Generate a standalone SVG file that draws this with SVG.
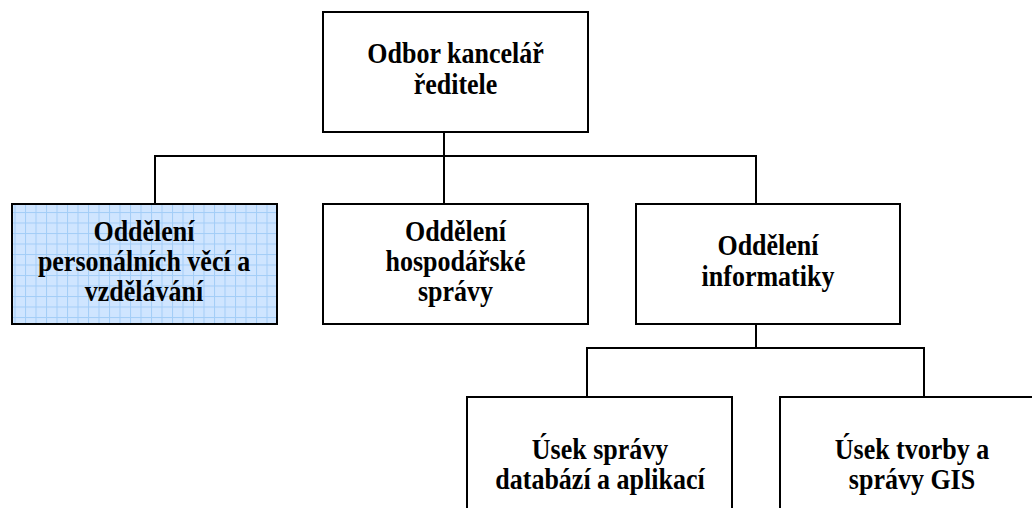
<svg xmlns="http://www.w3.org/2000/svg" width="1032" height="508" viewBox="0 0 1032 508">
<style>
.box{fill:#ffffff;stroke:#000000;stroke-width:2}
.blue{fill:url(#grid);stroke:#000000;stroke-width:2}
.conn{fill:none;stroke:#000000;stroke-width:2}
.t{font-family:"Liberation Serif","Times New Roman",serif;font-weight:bold;font-size:26px;fill:#000000;text-anchor:middle}
</style>
<defs>
<pattern id="grid" patternUnits="userSpaceOnUse" x="4" y="2" width="10.5" height="10.5">
<rect width="10.5" height="10.5" fill="#cfe5ff"/>
<rect x="0" y="0" width="1" height="10.5" fill="#a3cdf7"/>
<rect x="0" y="0" width="10.5" height="1" fill="#a3cdf7"/>
</pattern>
</defs>
<rect width="1032" height="508" fill="#ffffff"/>
<g id="connectors">
<path class="conn" d="M444 132 V204"/>
<path class="conn" d="M155 204 V156 H756 V204"/>
<path class="conn" d="M756 324 V348"/>
<path class="conn" d="M587 397 V348 H924 V397"/>
</g>
<g id="n-root">
<rect class="box" x="323" y="12" width="265" height="120"/>
<text class="t" transform="translate(455.5 63) scale(1 1.12)">Odbor kancelář</text>
<text class="t" transform="translate(455.5 94) scale(1 1.12)">ředitele</text>
</g>
<g id="n-personal">
<rect class="blue" x="12" y="204" width="265" height="120"/>
<text class="t" transform="translate(144 241) scale(1 1.12)">Oddělení</text>
<text class="t" transform="translate(144 271) scale(1 1.12)">personálních věcí a</text>
<text class="t" transform="translate(144 301) scale(1 1.12)">vzdělávání</text>
</g>
<g id="n-hosp">
<rect class="box" x="323" y="204" width="265" height="120"/>
<text class="t" transform="translate(455.5 241) scale(1 1.12)">Oddělení</text>
<text class="t" transform="translate(455.5 271) scale(1 1.12)">hospodářské</text>
<text class="t" transform="translate(455.5 301) scale(1 1.12)">správy</text>
</g>
<g id="n-inf">
<rect class="box" x="636" y="204" width="264" height="120"/>
<text class="t" transform="translate(768 255) scale(1 1.12)">Oddělení</text>
<text class="t" transform="translate(768 286) scale(1 1.12)">informatiky</text>
</g>
<g id="n-db">
<rect class="box" x="467" y="397" width="265" height="140"/>
<text class="t" transform="translate(600 459) scale(1 1.12)">Úsek správy</text>
<text class="t" transform="translate(600 489) scale(1 1.12)">databází a aplikací</text>
</g>
<g id="n-gis">
<rect class="box" x="780" y="397" width="265" height="140"/>
<text class="t" transform="translate(912 459) scale(1 1.12)">Úsek tvorby a</text>
<text class="t" transform="translate(912 489) scale(1 1.12)">správy GIS</text>
</g>
</svg>
